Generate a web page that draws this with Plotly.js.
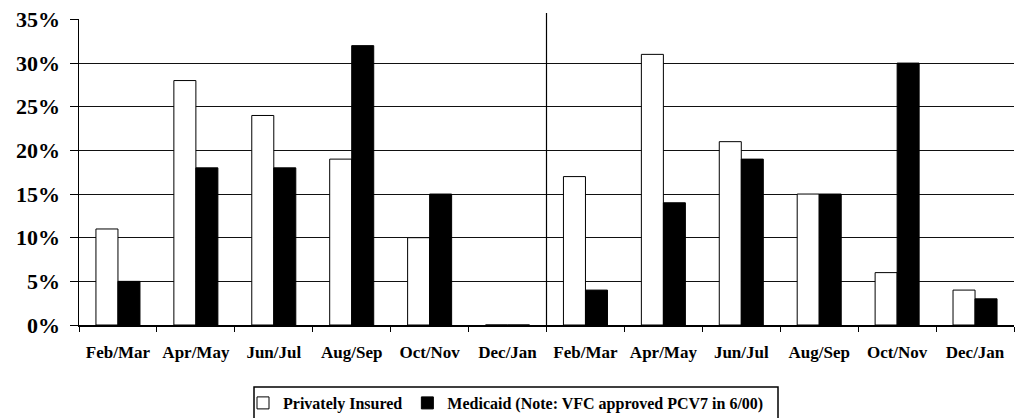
<!DOCTYPE html>
<html>
<head>
<meta charset="utf-8">
<script src="https://cdn.plot.ly/plotly-3.0.1.min.js"></script>
<style>html,body{margin:0;padding:0;background:#fff;}#chart{width:1015px;height:418px;}</style>
</head>
<body>
<div id="chart"></div>
<script>
const periods = ['Feb/Mar','Apr/May','Jun/Jul','Aug/Sep','Oct/Nov','Dec/Jan',
                 'Feb/Mar','Apr/May','Jun/Jul','Aug/Sep','Oct/Nov','Dec/Jan'];
const privatelyInsured = [11, 28, 24, 19, 10, 0, 17, 31, 21, 15, 6, 4];
const medicaid = [5, 18, 18, 32, 15, 0, 4, 14, 19, 15, 30, 3];
const seriesNames = ['Privately Insured', 'Medicaid (Note: VFC approved PCV7 in 6/00)'];
const yTicks = [0, 5, 10, 15, 20, 25, 30, 35];

const xIdx = periods.map((_, i) => i);
const boundaries = periods.map((_, i) => i - 0.5).concat([periods.length - 0.5]);
const serif = '"Liberation Serif", "Times New Roman", serif';

const W = 1015, L = 79, R = 1, T = 19, B = 93;
const plotW = W - L - R, plotH = 418 - T - B;
const px = v => (v - L) / plotW;
const py = v => (418 - B - v) / plotH;

const traces = [
  {type: 'bar', name: seriesNames[0], x: xIdx, y: privatelyInsured,
   marker: {color: '#ffffff', line: {color: '#000000', width: 1}}},
  {type: 'bar', name: seriesNames[1], x: xIdx, y: medicaid,
   marker: {color: '#000000', line: {color: '#000000', width: 1}}},
  {type: 'scatter', x: [0], y: [0], xaxis: 'x2', mode: 'markers',
   marker: {opacity: 0}, showlegend: false, hoverinfo: 'skip'}
];

const layout = {
  width: W, height: 418,
  margin: {l: L, r: R, t: T, b: B, autoexpand: false},
  paper_bgcolor: '#fff', plot_bgcolor: '#fff',
  barmode: 'group', bargap: 0.435, bargroupgap: 0,
  font: {family: serif, color: '#000', weight: 'bold'},
  xaxis: {
    range: [-0.5, periods.length - 0.5],
    tickvals: boundaries, ticktext: boundaries.map(() => ''),
    ticks: 'outside', ticklen: 5, tickcolor: '#000', tickwidth: 1,
    showgrid: false, zeroline: false,
    showline: true, linecolor: '#000', linewidth: 1.5
  },
  xaxis2: {
    overlaying: 'x', matches: 'x', side: 'bottom',
    range: [-0.5, periods.length - 0.5],
    tickvals: xIdx, ticktext: periods, ticks: '',
    ticklabelstandoff: 15,
    tickfont: {family: serif, size: 17, color: '#000', weight: 'bold'},
    showgrid: false, zeroline: false, showline: false
  },
  yaxis: {
    range: [0, 35.05], tickvals: yTicks, ticktext: yTicks.map(v => v + '%'),
    ticks: 'outside', ticklen: 8, tickcolor: '#000', tickwidth: 1,
    ticklabelstandoff: 5,
    tickfont: {family: serif, size: 22, color: '#000', weight: 'bold'},
    showgrid: true, gridcolor: '#111', gridwidth: 1,
    zeroline: false, showline: true, linecolor: '#000', linewidth: 1.5
  },
  showlegend: true,
  legend: {
    orientation: 'h', x: px(243), xanchor: 'left', y: py(386), yanchor: 'top',
    font: {family: serif, size: 16, color: '#000', weight: 'bold'},
    bgcolor: 'rgba(0,0,0,0)', borderwidth: 0, itemwidth: 30,
    traceorder: 'normal', itemclick: false
  },
  shapes: [
    {type: 'line', xref: 'x', yref: 'paper', x0: 5.5, x1: 5.5, y0: 0, y1: py(13),
     line: {color: '#000', width: 1.2}},
    {type: 'rect', xref: 'paper', yref: 'paper', x0: px(254), x1: px(778),
     y0: py(387), y1: py(440), line: {color: '#000', width: 1.5}, fillcolor: 'rgba(0,0,0,0)'}
  ]
};

Plotly.newPlot('chart', traces, layout, {displayModeBar: false, staticPlot: true});
</script>
</body>
</html>
